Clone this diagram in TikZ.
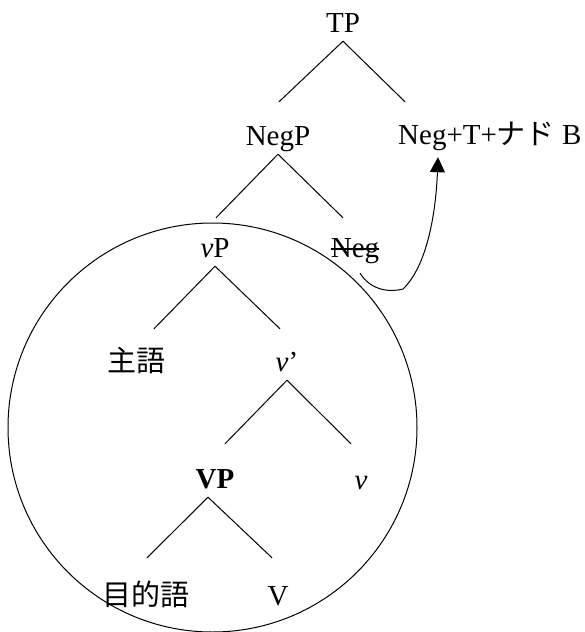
\documentclass[tikz,border=0pt]{standalone}
\usepackage{fontspec}
\setmainfont{Liberation Serif}
\newfontfamily\jp{Noto Sans CJK JP}
\usepackage{tikz}
\usetikzlibrary{arrows.meta}
\tikzstyle{cat} = [inner sep=0pt, anchor=base, text height=20pt, text depth=9pt,
    font=\fontsize{29}{34}\selectfont]
\tikzstyle{branch} = [line width=1pt, black]
\tikzstyle{strike} = [line width=1.4pt, black]
\tikzstyle{arr} = [-{Triangle[length=15pt, width=15pt]}, line width=1pt, black]

\begin{document}
\begin{tikzpicture}[x=1pt, y=-1pt]
  \useasboundingbox (0,0) rectangle (585,632);

  % Level 1: TP
  \node[cat] (tp) at (343,32) {TP};

  % Level 2: NegP and the moved head
  \node[cat] (negp) at (278,145) {NegP};
  \node[cat, anchor=base west] (negtt) at (398,144) {Neg+T+{\jp ナド} B};

  % Level 3: vP and the trace of Neg
  \node[cat] (vp) at (215,257) {\textit{v}P};
  \node[cat] (neg) at (355,257) {Neg};
  \draw[strike] ([yshift=8pt]neg.base west) -- ([yshift=8pt]neg.base east);

  % Level 4: subject and v'
  \node[cat] (subj) at (136,371) {\jp 主語};
  \node[cat] (vbar) at (287,371) {\textit{v}'};

  % Level 5: VP and v
  \node[cat] (vpbig) at (215,488) {\textbf{VP}};
  \node[cat] (vhead) at (361,489) {\textit{v}};

  % Level 6: object and V
  \node[cat] (obj) at (146,605) {\jp 目的語};
  \node[cat] (verb) at (278,605) {V};

  % Circle round vP
  \node[circle, draw, line width=1pt, minimum size=409pt, inner sep=0pt] (domain) at (212.5,427.5) {};

  % Branches
  \draw[branch] (tp.south) -- ([xshift=1pt, yshift=23pt]negp.north);
  \draw[branch] (tp.south) -- ([xshift=7pt, yshift=22pt]negtt.north west);
  \draw[branch] (negp.south) -- ([xshift=1pt, yshift=19pt]vp.north);
  \draw[branch] (negp.south) -- ([xshift=-12pt, yshift=19pt]neg.north);
  \draw[branch] (vp.south) -- ([xshift=18pt, yshift=22pt]subj.north);
  \draw[branch] (vp.south) -- ([xshift=-7pt, yshift=22pt]vbar.north);
  \draw[branch] (vbar.south) -- ([xshift=10pt, yshift=24pt]vpbig.north);
  \draw[branch] (vbar.south) -- ([xshift=-10pt, yshift=25pt]vhead.north);
  \draw[branch] ([xshift=-7pt]vpbig.south) -- ([xshift=1pt, yshift=27pt]obj.north);
  \draw[branch] ([xshift=-7pt]vpbig.south) -- ([xshift=-6pt, yshift=27pt]verb.north);

  % Head movement
  \draw[arr] ([xshift=5pt, yshift=-7pt]neg.south) .. controls (372,292) and (392,292) .. (403,289)
    .. controls (428,265) and (436,210) .. ([xshift=40pt, yshift=-4pt]negtt.south west);
\end{tikzpicture}
\end{document}
